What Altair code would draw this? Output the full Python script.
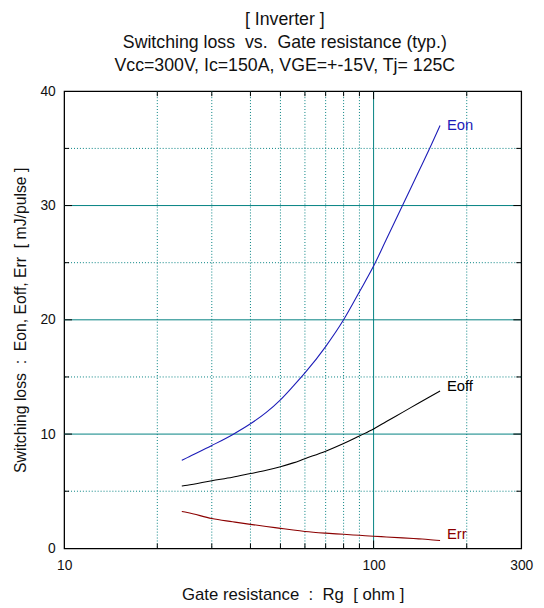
import altair as alt
import pandas as pd

# ---- data ----
rg = [24, 25, 30, 35, 40, 45, 50, 55, 60, 70, 80, 90, 100, 110, 124, 140, 150, 164]
eon = [7.7, 7.94, 9.0, 9.95, 10.9, 11.9, 13.0, 14.2, 15.35, 17.66, 20.0, 22.45, 24.7, 27.05, 30.0, 33.0, 34.7, 37.0]
eoff = [5.46, 5.52, 5.92, 6.22, 6.55, 6.84, 7.15, 7.48, 7.85, 8.5, 9.17, 9.84, 10.45, 11.1, 11.9, 12.72, 13.18, 13.77]
err = [3.22, 3.14, 2.61, 2.33, 2.1, 1.92, 1.75, 1.6, 1.48, 1.33, 1.23, 1.14, 1.06, 1.0, 0.92, 0.83, 0.78, 0.69]

series_names = ["Eon", "Eoff", "Err"]
series_colors = ["#1c1cb8", "#000000", "#8b0000"]
label_dy = [-1, -5, -6]

x_tick_labels = [10, 100, 300]
y_tick_labels = [0, 10, 20, 30, 40]
x_grid_major = [100]
x_grid_minor = [20, 30, 40, 50, 60, 70, 80, 90, 200]
y_grid_major = [10, 20, 30]
y_grid_minor = [5, 15, 25, 35]

NB = "\u00a0"
title_lines = ["[ Inverter ]",
               f"Switching loss {NB}vs. {NB}Gate resistance (typ.)",
               "Vcc=300V, Ic=150A, VGE=+-15V, Tj= 125C"]
x_title = f"Gate resistance {NB}: {NB}Rg {NB}[ ohm ]"
y_title = f"Switching loss {NB}: {NB}Eon, Eoff, Err {NB}[ mJ/pulse ]"

FONT = "Liberation Sans"
TEAL = "#008080"

xs = alt.Scale(type="log", domain=[10, 300], nice=False)
ys = alt.Scale(domain=[0, 40], nice=False)

xaxis = alt.Axis(values=x_tick_labels, grid=False, ticks=False, domain=False,
                 labelFont=FONT, labelFontSize=14, labelColor="#111", labelPadding=10,
                 labelFlush=False, title=x_title, titleFont=FONT, titleFontSize=17,
                 titleFontWeight="normal", titleColor="#111", titlePadding=15)
yaxis = alt.Axis(values=y_tick_labels, grid=False, ticks=False, domain=False,
                 labelFont=FONT, labelFontSize=14, labelColor="#111", labelPadding=9,
                 title=y_title, titleFont=FONT, titleFontSize=16,
                 titleFontWeight="normal", titleColor="#111", titlePadding=12)


def X(field):
    return alt.X(field, type="quantitative", scale=xs, axis=xaxis)


def Y(field):
    return alt.Y(field, type="quantitative", scale=ys, axis=yaxis)


layers = []

# grid lines
layers.append(alt.Chart(pd.DataFrame({"v": x_grid_minor})).mark_rule(
    color=TEAL, strokeWidth=1, strokeDash=[1, 2]).encode(x=X("v")))
layers.append(alt.Chart(pd.DataFrame({"v": y_grid_minor})).mark_rule(
    color=TEAL, strokeWidth=1, strokeDash=[1, 2]).encode(y=Y("v")))
layers.append(alt.Chart(pd.DataFrame({"v": x_grid_major})).mark_rule(
    color=TEAL, strokeWidth=1).encode(x=X("v")))
layers.append(alt.Chart(pd.DataFrame({"v": y_grid_major})).mark_rule(
    color=TEAL, strokeWidth=1).encode(y=Y("v")))

# inward ticks
H = 464
W = 464
for vals, ln in ((x_grid_minor, 5), (x_grid_major, 8)):
    d = pd.DataFrame({"v": vals})
    layers.append(alt.Chart(d).mark_rule(color="black", strokeWidth=1).encode(
        x=X("v"), y=alt.value(H), y2=alt.value(H - ln)))
    layers.append(alt.Chart(d).mark_rule(color="black", strokeWidth=1).encode(
        x=X("v"), y=alt.value(0), y2=alt.value(ln)))
for vals, ln in ((y_grid_minor, 5), (y_grid_major, 8)):
    d = pd.DataFrame({"v": vals})
    layers.append(alt.Chart(d).mark_rule(color="black", strokeWidth=1).encode(
        y=Y("v"), x=alt.value(0), x2=alt.value(ln)))
    layers.append(alt.Chart(d).mark_rule(color="black", strokeWidth=1).encode(
        y=Y("v"), x=alt.value(W), x2=alt.value(W - ln)))

# curves + end labels
for name, vals, col, dy in zip(series_names, [eon, eoff, err], series_colors, label_dy):
    df = pd.DataFrame({"rg": rg, "e": vals})
    layers.append(alt.Chart(df).mark_line(color=col, strokeWidth=1.1,
                                          interpolate="monotone").encode(
        x=X("rg"), y=Y("e")))
    end = pd.DataFrame({"rg": [rg[-1]], "e": [vals[-1]], "t": [name]})
    layers.append(alt.Chart(end).mark_text(align="left", baseline="middle", dx=7, dy=dy,
                                           font=FONT, fontSize=15, color=col).encode(
        x=X("rg"), y=Y("e"), text="t:N"))

chart = alt.layer(*layers).properties(
    width=W, height=H,
    title=alt.Title(title_lines, font=FONT, fontSize=18, fontWeight="normal",
                    color="#111", lineHeight=23, anchor="middle", offset=10, dx=-8),
    autosize=alt.AutoSizeParams(type="none"),
    padding={"left": 57, "top": 80, "right": 15, "bottom": 56},
    background="white",
).configure_view(stroke="black", strokeWidth=1.3)

chart.save("out.html", embed_options={"renderer": "svg", "actions": False})
